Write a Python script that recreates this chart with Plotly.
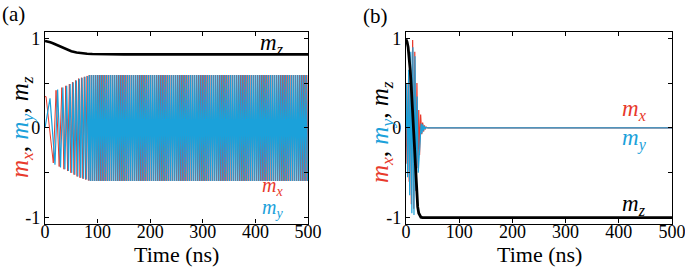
import plotly.graph_objects as go

RED = "#e8392b"
BLUE = "#1ba1da"
BLACK = "#000000"
FONT = "Liberation Serif, Times New Roman, serif"

# ---------------- Panel (a) data ----------------
mz_a_t = [0, 5, 10, 15, 20, 25, 30, 35, 40, 45, 50, 60, 70, 80, 90, 100, 120, 150, 200, 300, 400, 500]
mz_a_v = [0.97, 0.965, 0.955, 0.945, 0.933, 0.92, 0.905, 0.892, 0.878, 0.866, 0.856, 0.842, 0.833,
          0.827, 0.824, 0.822, 0.821, 0.82, 0.82, 0.82, 0.82, 0.82]

# turning points of m_x (panel a)
mx_a_t = [0, 2, 15.8, 21, 27, 32, 36, 39.5, 43, 46.3, 49.3, 52.2, 55.2, 58.2, 61, 63.8, 66.6, 69.3,
          72, 74.7, 77.3, 80, 82.5,
          84, 86, 88, 90, 92, 94, 96, 98,
          100, 102, 104, 106, 108, 110, 112, 114, 116, 118,
          120, 122, 124, 126, 128, 130, 132, 134, 136, 138,
          140, 142, 144, 146, 148, 150, 152, 154, 156, 158,
          160, 162, 164, 166, 168, 170, 172, 174, 176, 178,
          180, 182, 184, 186, 188, 190, 192, 194, 196, 198,
          200, 202, 204, 206, 208, 210, 212, 214, 216, 218,
          220, 222, 224, 226, 228, 230, 232, 234, 236, 238,
          240, 242, 244, 246, 248, 250, 252, 254, 256, 258,
          260, 262, 264, 266, 268, 270, 272, 274, 276, 278,
          280, 282, 284, 286, 288, 290, 292, 294, 296, 298,
          300, 302, 304, 306, 308, 310, 312, 314, 316, 318,
          320, 322, 324, 326, 328, 330, 332, 334, 336, 338,
          340, 342, 344, 346, 348, 350, 352, 354, 356, 358,
          360, 362, 364, 366, 368, 370, 372, 374, 376, 378,
          380, 382, 384, 386, 388, 390, 392, 394, 396, 398,
          400, 402, 404, 406, 408, 410, 412, 414, 416, 418,
          420, 422, 424, 426, 428, 430, 432, 434, 436, 438,
          440, 442, 444, 446, 448, 450, 452, 454, 456, 458,
          460, 462, 464, 466, 468, 470, 472, 474, 476, 478,
          480, 482, 484, 486, 488, 490, 492, 494, 496, 498,
          500]
mx_a_v = [0.35, 0.35, -0.39, 0.42, -0.43, 0.45, -0.46, 0.47, -0.48, 0.49, -0.5, 0.51, -0.52, 0.53,
          -0.54, 0.55, -0.555, 0.56, -0.565, 0.57, -0.575, 0.58, -0.585,
          0.59, -0.59, 0.59, -0.59, 0.59, -0.59, 0.59, -0.59,
          0.59, -0.59, 0.59, -0.59, 0.59, -0.59, 0.59, -0.59, 0.59, -0.59,
          0.59, -0.59, 0.59, -0.59, 0.59, -0.59, 0.59, -0.59, 0.59, -0.59,
          0.59, -0.59, 0.59, -0.59, 0.59, -0.59, 0.59, -0.59, 0.59, -0.59,
          0.59, -0.59, 0.59, -0.59, 0.59, -0.59, 0.59, -0.59, 0.59, -0.59,
          0.59, -0.59, 0.59, -0.59, 0.59, -0.59, 0.59, -0.59, 0.59, -0.59,
          0.59, -0.59, 0.59, -0.59, 0.59, -0.59, 0.59, -0.59, 0.59, -0.59,
          0.59, -0.59, 0.59, -0.59, 0.59, -0.59, 0.59, -0.59, 0.59, -0.59,
          0.59, -0.59, 0.59, -0.59, 0.59, -0.59, 0.59, -0.59, 0.59, -0.59,
          0.59, -0.59, 0.59, -0.59, 0.59, -0.59, 0.59, -0.59, 0.59, -0.59,
          0.59, -0.59, 0.59, -0.59, 0.59, -0.59, 0.59, -0.59, 0.59, -0.59,
          0.59, -0.59, 0.59, -0.59, 0.59, -0.59, 0.59, -0.59, 0.59, -0.59,
          0.59, -0.59, 0.59, -0.59, 0.59, -0.59, 0.59, -0.59, 0.59, -0.59,
          0.59, -0.59, 0.59, -0.59, 0.59, -0.59, 0.59, -0.59, 0.59, -0.59,
          0.59, -0.59, 0.59, -0.59, 0.59, -0.59, 0.59, -0.59, 0.59, -0.59,
          0.59, -0.59, 0.59, -0.59, 0.59, -0.59, 0.59, -0.59, 0.59, -0.59,
          0.59, -0.59, 0.59, -0.59, 0.59, -0.59, 0.59, -0.59, 0.59, -0.59,
          0.59, -0.59, 0.59, -0.59, 0.59, -0.59, 0.59, -0.59, 0.59, -0.59,
          0.59, -0.59, 0.59, -0.59, 0.59, -0.59, 0.59, -0.59, 0.59, -0.59,
          0.59, -0.59, 0.59, -0.59, 0.59, -0.59, 0.59, -0.59, 0.59, -0.59,
          0.59, -0.59, 0.59, -0.59, 0.59, -0.59, 0.59, -0.59, 0.59, -0.59,
          0.59]

# turning points of m_y (panel a)
my_a_t = [0, 9.5, 19, 24, 29.5, 34, 37.8, 41.2, 44.6, 47.8, 50.8, 53.7, 56.7, 59.6, 62.4, 65.2, 68,
          70.6, 73.3, 76, 78.6, 81.2, 83.7,
          85, 87, 89, 91, 93, 95, 97, 99,
          101, 103, 105, 107, 109, 111, 113, 115, 117, 119,
          121, 123, 125, 127, 129, 131, 133, 135, 137, 139,
          141, 143, 145, 147, 149, 151, 153, 155, 157, 159,
          161, 163, 165, 167, 169, 171, 173, 175, 177, 179,
          181, 183, 185, 187, 189, 191, 193, 195, 197, 199,
          201, 203, 205, 207, 209, 211, 213, 215, 217, 219,
          221, 223, 225, 227, 229, 231, 233, 235, 237, 239,
          241, 243, 245, 247, 249, 251, 253, 255, 257, 259,
          261, 263, 265, 267, 269, 271, 273, 275, 277, 279,
          281, 283, 285, 287, 289, 291, 293, 295, 297, 299,
          301, 303, 305, 307, 309, 311, 313, 315, 317, 319,
          321, 323, 325, 327, 329, 331, 333, 335, 337, 339,
          341, 343, 345, 347, 349, 351, 353, 355, 357, 359,
          361, 363, 365, 367, 369, 371, 373, 375, 377, 379,
          381, 383, 385, 387, 389, 391, 393, 395, 397, 399,
          401, 403, 405, 407, 409, 411, 413, 415, 417, 419,
          421, 423, 425, 427, 429, 431, 433, 435, 437, 439,
          441, 443, 445, 447, 449, 451, 453, 455, 457, 459,
          461, 463, 465, 467, 469, 471, 473, 475, 477, 479,
          481, 483, 485, 487, 489, 491, 493, 495, 497, 499]
my_a_v = [0.0, 0.33, -0.41, 0.43, -0.44, 0.45, -0.46, 0.47, -0.48, 0.49, -0.5, 0.51, -0.52, 0.53,
          -0.54, 0.55, -0.555, 0.56, -0.565, 0.57, -0.575, 0.58, -0.585,
          0.59, -0.59, 0.59, -0.59, 0.59, -0.59, 0.59, -0.59,
          0.59, -0.59, 0.59, -0.59, 0.59, -0.59, 0.59, -0.59, 0.59, -0.59,
          0.59, -0.59, 0.59, -0.59, 0.59, -0.59, 0.59, -0.59, 0.59, -0.59,
          0.59, -0.59, 0.59, -0.59, 0.59, -0.59, 0.59, -0.59, 0.59, -0.59,
          0.59, -0.59, 0.59, -0.59, 0.59, -0.59, 0.59, -0.59, 0.59, -0.59,
          0.59, -0.59, 0.59, -0.59, 0.59, -0.59, 0.59, -0.59, 0.59, -0.59,
          0.59, -0.59, 0.59, -0.59, 0.59, -0.59, 0.59, -0.59, 0.59, -0.59,
          0.59, -0.59, 0.59, -0.59, 0.59, -0.59, 0.59, -0.59, 0.59, -0.59,
          0.59, -0.59, 0.59, -0.59, 0.59, -0.59, 0.59, -0.59, 0.59, -0.59,
          0.59, -0.59, 0.59, -0.59, 0.59, -0.59, 0.59, -0.59, 0.59, -0.59,
          0.59, -0.59, 0.59, -0.59, 0.59, -0.59, 0.59, -0.59, 0.59, -0.59,
          0.59, -0.59, 0.59, -0.59, 0.59, -0.59, 0.59, -0.59, 0.59, -0.59,
          0.59, -0.59, 0.59, -0.59, 0.59, -0.59, 0.59, -0.59, 0.59, -0.59,
          0.59, -0.59, 0.59, -0.59, 0.59, -0.59, 0.59, -0.59, 0.59, -0.59,
          0.59, -0.59, 0.59, -0.59, 0.59, -0.59, 0.59, -0.59, 0.59, -0.59,
          0.59, -0.59, 0.59, -0.59, 0.59, -0.59, 0.59, -0.59, 0.59, -0.59,
          0.59, -0.59, 0.59, -0.59, 0.59, -0.59, 0.59, -0.59, 0.59, -0.59,
          0.59, -0.59, 0.59, -0.59, 0.59, -0.59, 0.59, -0.59, 0.59, -0.59,
          0.59, -0.59, 0.59, -0.59, 0.59, -0.59, 0.59, -0.59, 0.59, -0.59,
          0.59, -0.59, 0.59, -0.59, 0.59, -0.59, 0.59, -0.59, 0.59, -0.59,
          0.59, -0.59, 0.59, -0.59, 0.59, -0.59, 0.59, -0.59, 0.59, -0.59]

# ---------------- Panel (b) data ----------------
mz_b_t = [0, 2, 4, 6, 8, 10, 12, 14, 16, 18, 20, 22, 24, 26, 28, 31, 35, 500]
mz_b_v = [0.99, 0.96, 0.9, 0.8, 0.64, 0.45, 0.22, -0.03, -0.3, -0.55, -0.75, -0.88, -0.95, -0.98,
          -0.995, -1.0, -1.0, -1.0]

mx_b_t = [0, 2, 4, 6, 8, 10, 12.5, 14.5, 16.5, 18.5, 20.5, 22.5, 24, 25.5, 27.5, 29.5, 31.3, 33,
          34.7, 36.4, 38, 41, 500]
mx_b_v = [0.1, -0.4, 0.5, -0.6, 0.7, -0.85, 0.98, -0.9, 0.85, -0.7, 0.5, -0.45, 0.2, -0.3, 0.15,
          -0.07, 0.06, -0.04, 0.03, -0.015, 0.01, 0.0, 0.0]

my_b_t = [0, 1, 3, 5, 7, 9, 11, 13, 15, 17, 19, 21, 23, 26, 28.5, 30, 31.5, 33, 34.5, 36, 38, 41, 500]
my_b_v = [0.0, 0.5, -0.55, 0.65, -0.75, 0.85, -0.95, 0.9, -0.97, 0.8, -0.7, 0.35, -0.5, -0.2, 0.05,
          -0.06, 0.04, -0.03, 0.02, -0.01, 0.005, 0.0, 0.0]

# ---------------- Axes ----------------
x_tickvals = [0, 100, 200, 300, 400, 500]
x_ticktext = ["0", "100", "200", "300", "400", "500"]
y_tickvals = [-1, -0.5, 0, 0.5, 1]
y_ticktext = ["-1", "", "0", "", "1"]
x_title = "Time (ns)"
panel_labels = ["(a)", "(b)"]

W, H = 685, 268


def fx(px):
    return px / W


def fy(px):
    return 1 - px / H


fig = go.Figure()

# panel (a)
fig.add_trace(go.Scatter(x=mx_a_t, y=mx_a_v, mode="lines", line=dict(color=RED, width=1),
                         xaxis="x", yaxis="y", showlegend=False))
fig.add_trace(go.Scatter(x=my_a_t, y=my_a_v, mode="lines", line=dict(color=BLUE, width=1.2),
                         xaxis="x", yaxis="y", showlegend=False))
fig.add_trace(go.Scatter(x=mz_a_t, y=mz_a_v, mode="lines", line=dict(color=BLACK, width=2.6),
                         xaxis="x", yaxis="y", showlegend=False))
# panel (b)
fig.add_trace(go.Scatter(x=mx_b_t, y=mx_b_v, mode="lines", line=dict(color=RED, width=1.2),
                         xaxis="x2", yaxis="y2", showlegend=False))
fig.add_trace(go.Scatter(x=my_b_t, y=my_b_v, mode="lines", line=dict(color=BLUE, width=1.2),
                         xaxis="x2", yaxis="y2", showlegend=False))
fig.add_trace(go.Scatter(x=mz_b_t, y=mz_b_v, mode="lines", line=dict(color=BLACK, width=2.8),
                         xaxis="x2", yaxis="y2", showlegend=False))

tickfont = dict(family=FONT, size=18, color="black")
xcommon = dict(range=[0, 500], tickvals=x_tickvals, ticktext=x_ticktext, ticks="inside", ticklen=4,
               tickwidth=1, tickcolor="black", showline=True, linecolor="black", linewidth=1.4,
               mirror="ticks", showgrid=False, zeroline=False, tickfont=tickfont, fixedrange=True,
               automargin=False, ticklabelstandoff=-8, ticklabeloverflow="allow")
ycommon = dict(range=[-1.065, 1.07], tickvals=y_tickvals, ticktext=y_ticktext, ticks="inside",
               ticklen=4, tickwidth=1, tickcolor="black", showline=True, linecolor="black",
               linewidth=1.4, mirror="ticks", showgrid=False, zeroline=False, tickfont=tickfont,
               fixedrange=True, automargin=False, ticklabeloverflow="allow")

ydom = [fy(223.5), fy(32)]
fig.update_layout(
    width=W, height=H,
    margin=dict(l=0, r=0, t=0, b=0, pad=0, autoexpand=False),
    font=dict(family=FONT, size=18, color="black"),
    paper_bgcolor="white", plot_bgcolor="white",
    xaxis=dict(domain=[fx(45), fx(308)], anchor="y", **xcommon),
    yaxis=dict(domain=ydom, anchor="x", **ycommon),
    xaxis2=dict(domain=[fx(406), fx(672)], anchor="y2", **xcommon),
    yaxis2=dict(domain=ydom, anchor="x2", **ycommon),
)

ytitle = ('<span style="color:%s"><i>m<sub>x</sub></i></span>, '
          '<span style="color:%s"><i>m<sub>y</sub></i></span>, '
          '<i>m<sub>z</sub></i>') % (RED, BLUE)


def ann(text, x, y, size, color="black", angle=0, xanchor="center", yanchor="middle"):
    fig.add_annotation(text=text, x=fx(x), y=fy(y), xref="paper", yref="paper",
                       showarrow=False, xanchor=xanchor, yanchor=yanchor, textangle=angle,
                       font=dict(family=FONT, size=size, color=color))


ann(panel_labels[0], 13, 14, 21)
ann(panel_labels[1], 375, 16, 21)
ann(ytitle, 21, 127, 25, angle=-90)
ann(ytitle, 381, 132, 25, angle=-90)
ann(x_title, 176.5, 254, 22)
ann(x_title, 539, 254, 22)
ann("<i>m<sub>z</sub></i>", 272, 44, 23)
ann("<i>m<sub>x</sub></i>", 272, 186, 20, RED)
ann("<i>m<sub>y</sub></i>", 272, 208, 20, BLUE)
ann("<i>m<sub>x</sub></i>", 634, 110, 23, RED)
ann("<i>m<sub>y</sub></i>", 634, 139, 23, BLUE)
ann("<i>m<sub>z</sub></i>", 634, 205, 23)

# the page itself gets no body margin, so the figure fills the 685x268 window exactly
fig.write_html("out.html", config={"displayModeBar": False},
               post_script="document.body.style.margin='0px';document.body.style.overflow='hidden';")
